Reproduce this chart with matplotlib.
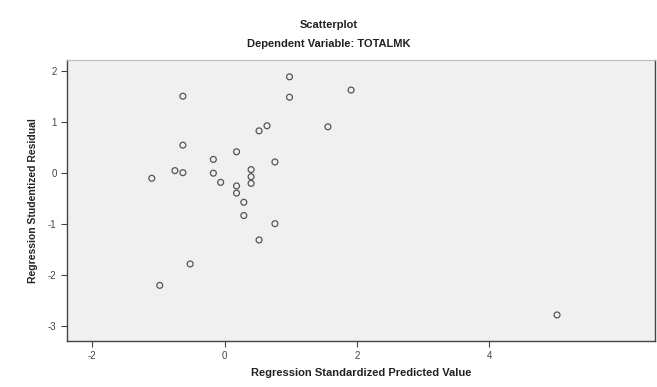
import matplotlib.pyplot as plt
import numpy as np

# values
pred = [0.98, -0.63, 0.98, 1.91, 0.64, 0.52, 1.56, -0.63, 0.18, -0.17,
        0.76, 0.40, -0.75, -0.63, -0.17, -1.10, 0.40, -0.06, 0.40, 0.18,
        0.18, 0.29, 0.29, 0.76, 0.52, -0.52, -0.98, 5.02]
resid = [1.89, 1.51, 1.49, 1.63, 0.93, 0.83, 0.91, 0.55, 0.42, 0.27,
         0.22, 0.07, 0.05, 0.01, 0.00, -0.10, -0.07, -0.18, -0.20, -0.25,
         -0.39, -0.57, -0.83, -0.99, -1.31, -1.78, -2.20, -2.78]
xticks = [-2, 0, 2, 4]
yticks = [-3, -2, -1, 0, 1, 2]

plt.rcParams['font.family'] = ['Liberation Sans', 'DejaVu Sans']
plt.rcParams['axes.unicode_minus'] = False

fig = plt.figure(figsize=(6.57, 3.87), dpi=100)
fig.patch.set_facecolor('white')
ax = fig.add_axes([0.102, 0.119, 0.895, 0.726])
ax.set_facecolor('#f0f0f0')

ax.scatter(pred, resid, s=18, facecolors='none', edgecolors='#555555', linewidths=0.9)

ax.set_xlim(-2.38, 6.5)
ax.set_ylim(-3.29, 2.22)
ax.set_xticks(xticks)
ax.set_yticks(yticks)
ax.tick_params(labelsize=7, colors='#444444', length=4, width=0.8)

for s in ['left', 'bottom', 'right']:
    ax.spines[s].set_color('#444444')
    ax.spines[s].set_linewidth(1.0)
ax.spines['top'].set_color('#bbbbbb')

ax.set_xlabel('Regression Standardized Predicted Value', fontsize=8, fontweight='bold', color='#222222', labelpad=5)
ax.set_ylabel('Regression Studentized Residual', fontsize=7.5, fontweight='bold', color='#222222', labelpad=7)

fig.text(0.5, 0.935, 'Scatterplot', ha='center', va='center', fontsize=8, fontweight='bold', color='#222222')
fig.text(0.5, 0.887, 'Dependent Variable: TOTALMK', ha='center', va='center', fontsize=8, fontweight='bold', color='#222222')

fig.savefig('out.png', dpi=100)
